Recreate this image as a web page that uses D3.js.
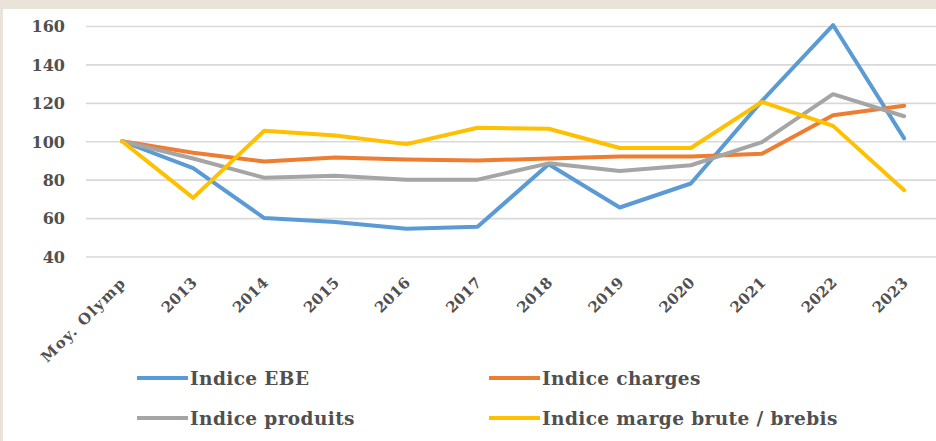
<!DOCTYPE html>
<html>
<head>
<meta charset="utf-8">
<script src="https://cdn.jsdelivr.net/npm/d3@7"></script>
<style>
  html, body { margin: 0; padding: 0; background: #e9e3da; }
  svg { display: block; }
</style>
</head>
<body>
<svg id="chart" width="936" height="441"></svg>
<script>
const categories = ["Moy. Olymp", "2013", "2014", "2015", "2016", "2017", "2018", "2019", "2020", "2021", "2022", "2023"];
const indiceEBE      = [100, 86, 60, 58, 54.5, 55.5, 88, 65.5, 78, 121, 160.5, 101.5];
const indiceCharges  = [100, 94, 89.5, 91.5, 90.5, 90, 91, 92, 92, 93.5, 113.5, 118.5];
const indiceProduits = [100, 91, 81, 82, 80, 80, 88.5, 84.5, 87.5, 99.5, 124.5, 113];
const indiceMarge    = [100, 70.5, 105.5, 103, 98.5, 107, 106.5, 96.5, 96.5, 120.5, 108, 74.5];
const seriesNames  = ["Indice EBE", "Indice charges", "Indice produits", "Indice marge brute / brebis"];
const seriesColors = ["#5b9bd5", "#ed7d31", "#a5a5a5", "#ffc000"];
const yTicks = [40, 60, 80, 100, 120, 140, 160];

const seriesValues = [indiceEBE, indiceCharges, indiceProduits, indiceMarge];
const series = seriesNames.map((name, i) => ({ name, color: seriesColors[i], values: seriesValues[i] }));

const svg = d3.select("#chart");
const font = "'DejaVu Serif', serif";
const textColor = "#505050";

// white panel
svg.append("rect").attr("x", 3).attr("y", 9).attr("width", 933).attr("height", 432).attr("fill", "#ffffff");

const x = d3.scaleBand().domain(categories).range([86.5, 86.5 + 71.1 * categories.length]);
const y = d3.scaleLinear().domain([40, 160]).range([256.5, 26]);

// gridlines via axis
const grid = svg.append("g").attr("transform", "translate(86,0)")
  .call(d3.axisLeft(y).tickValues(yTicks).tickSize(-860).tickFormat(""));
grid.select(".domain").remove();
grid.selectAll(".tick line").attr("stroke", "#d9d9d9").attr("stroke-width", 1.6);

// y labels
const yAxis = svg.append("g").attr("transform", "translate(65,0)")
  .call(d3.axisLeft(y).tickValues(yTicks).tickSize(0).tickPadding(0));
yAxis.select(".domain").remove();
yAxis.selectAll(".tick text")
  .attr("font-family", font).attr("font-weight", "bold").attr("font-size", 16)
  .attr("fill", textColor).attr("dy", "0.36em");

// x labels
const xAxis = svg.append("g").attr("transform", "translate(0,256.5)")
  .call(d3.axisBottom(x).tickSize(0).tickPadding(0));
xAxis.select(".domain").remove();
xAxis.selectAll(".tick text")
  .attr("font-family", font).attr("font-weight", "bold").attr("font-size", 15)
  .attr("letter-spacing", d => d.length > 4 ? 1.5 : 0.3)
  .attr("fill", textColor)
  .attr("text-anchor", "end")
  .attr("dy", null)
  .attr("y", 0)
  .attr("transform", "translate(5,27) rotate(-45)");

// lines
const line = d3.line()
  .x((d, i) => x(categories[i]) + x.bandwidth() / 2)
  .y(d => y(d));

svg.append("g").selectAll("path").data(series).join("path")
  .attr("d", d => line(d.values))
  .attr("fill", "none")
  .attr("stroke", d => d.color)
  .attr("stroke-width", 4)
  .attr("stroke-linejoin", "round")
  .attr("stroke-linecap", "round");

// legend
const legendPos = [[137, 378], [489, 378], [137, 418], [489, 418]];
const lg = svg.append("g").selectAll("g").data(series).join("g")
  .attr("transform", (d, i) => `translate(${legendPos[i][0]},${legendPos[i][1]})`);
lg.append("line").attr("x1", 0).attr("x2", 51).attr("y1", 0).attr("y2", 0)
  .attr("stroke", d => d.color).attr("stroke-width", 4);
lg.append("text").attr("x", 53).attr("y", 0).attr("dy", "0.36em")
  .attr("font-family", font).attr("font-weight", "bold").attr("font-size", 18.5)
  .attr("letter-spacing", 0.4)
  .attr("fill", textColor)
  .text(d => d.name);
</script>
</body>
</html>
